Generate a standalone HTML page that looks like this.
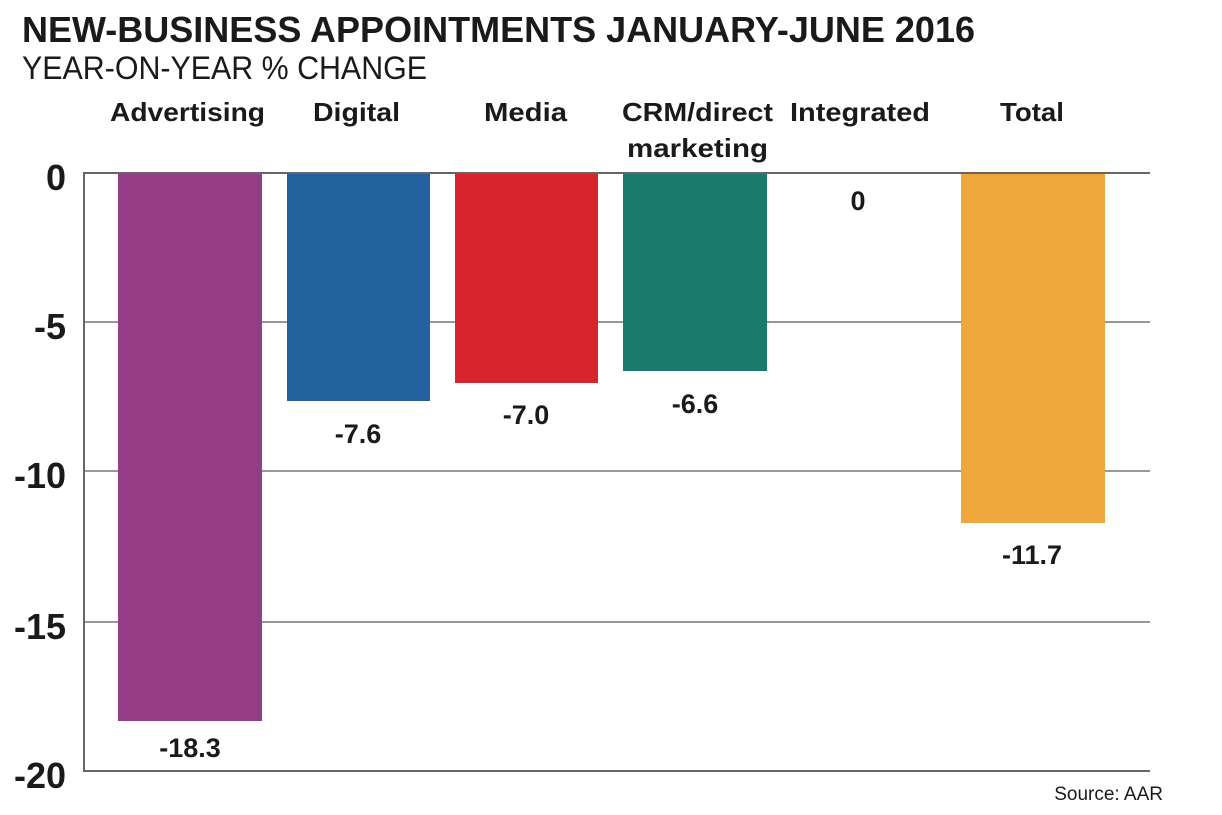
<!DOCTYPE html>
<html><head><style>
body{margin:0;background:#fff;}
svg{display:block;}
text{font-family:"Liberation Sans",sans-serif;fill:#1a1a1a;}
.b{font-weight:bold;}
</style></head><body>
<svg width="1222" height="815" viewBox="0 0 1222 815">
<text x="22" y="42" class="b" font-size="36" textLength="953" lengthAdjust="spacingAndGlyphs">NEW-BUSINESS APPOINTMENTS JANUARY-JUNE 2016</text>
<text x="22" y="79" font-size="32" textLength="405" lengthAdjust="spacingAndGlyphs">YEAR-ON-YEAR % CHANGE</text>
<g class="b" font-size="26">
<text x="110" y="121" textLength="155" lengthAdjust="spacingAndGlyphs">Advertising</text>
<text x="313" y="121" textLength="87" lengthAdjust="spacingAndGlyphs">Digital</text>
<text x="484" y="121" textLength="83" lengthAdjust="spacingAndGlyphs">Media</text>
<text x="622" y="121" textLength="151" lengthAdjust="spacingAndGlyphs">CRM/direct</text>
<text x="627" y="157" textLength="141" lengthAdjust="spacingAndGlyphs">marketing</text>
<text x="790" y="121" textLength="140" lengthAdjust="spacingAndGlyphs">Integrated</text>
<text x="1000" y="121" textLength="64" lengthAdjust="spacingAndGlyphs">Total</text>
</g>
<g stroke="#777" stroke-width="1.5">
<line x1="84" y1="322" x2="1150" y2="322"/>
<line x1="84" y1="471" x2="1150" y2="471"/>
<line x1="84" y1="622" x2="1150" y2="622"/>
</g>
<rect x="118" y="173" width="144" height="548" fill="#943c84"/>
<rect x="287" y="173" width="143" height="228" fill="#22609e"/>
<rect x="455" y="173" width="143" height="210" fill="#d8242c"/>
<rect x="623" y="173" width="144" height="198" fill="#1a7b6d"/>
<rect x="961" y="173" width="144" height="350" fill="#eea73a"/>
<g stroke="#666" stroke-width="2" fill="none">
<line x1="84" y1="173" x2="1150" y2="173"/>
<line x1="84" y1="172" x2="84" y2="772"/>
<line x1="84" y1="771" x2="1150" y2="771"/>
</g>
<g class="b" font-size="36" text-anchor="end">
<text x="66" y="190">0</text>
<text x="66" y="339">-5</text>
<text x="66" y="488">-10</text>
<text x="66" y="639">-15</text>
<text x="66" y="788">-20</text>
</g>
<g class="b" font-size="27" text-anchor="middle">
<text x="190" y="757">-18.3</text>
<text x="358" y="443">-7.6</text>
<text x="526" y="424">-7.0</text>
<text x="695" y="413">-6.6</text>
<text x="858" y="210">0</text>
<text x="1032" y="564">-11.7</text>
</g>
<text x="1163" y="800" font-size="19" text-anchor="end">Source: AAR</text>
</svg>
</body></html>
